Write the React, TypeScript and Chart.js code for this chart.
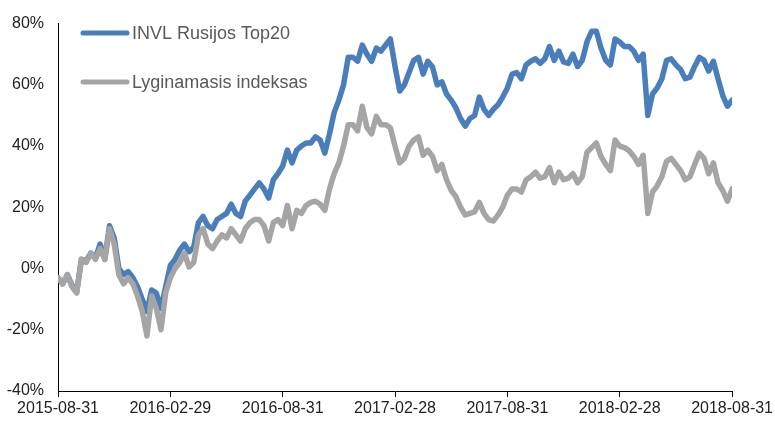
import React, { useEffect, useRef } from "react";
import { Chart, registerables } from "chart.js";

Chart.register(...registerables);

// x axis: 145 evenly spaced observations (index 0..144), labels every 24 steps
const tickLabels = [
  "2015-08-31",
  "2016-02-29",
  "2016-08-31",
  "2017-02-28",
  "2017-08-31",
  "2018-02-28",
  "2018-08-31",
];

const seriesNames = ["INVL Rusijos Top20", "Lyginamasis indeksas"];

const invlTop20 = [
  -3, -5, -2, -5.5, -7.5, 3, 2.5, 5, 3.5, 8,
  3, 14, 10, 0, -2, -1, -3, -6, -10, -14,
  -7, -8, -13, -6, 1, 3, 6, 8, 5.5, 7,
  15, 17, 14, 13, 16, 17, 18, 21, 18, 17,
  22, 24, 26, 28, 26, 23, 29, 31, 33.5, 38.7,
  34.5, 38.7, 40, 41, 41, 43, 42, 37.7, 44, 51,
  55, 60, 69, 69, 67.7, 73, 70, 67.7, 72, 71,
  73, 75, 66, 58, 60, 64, 68, 69, 63.5, 67.7,
  65.8, 60, 61, 57, 55, 52.5, 49, 46.5, 49, 50,
  56, 52, 50, 52, 53.5, 56, 59, 63.5, 64, 62,
  66.5, 67.7, 68.5, 67, 68.5, 72.5, 68, 71, 67.5, 67,
  70, 66, 68, 74, 77.5, 77.5, 72, 68, 66.5, 75,
  74, 72.5, 72.5, 71, 68, 70, 50, 57, 59, 62,
  68, 68.5, 66.5, 65, 62, 62.5, 66, 69, 68, 64.5,
  67.7, 62, 56.5, 53, 55,
];

const benchmark = [
  -3, -5, -2, -6, -8, 3, 2, 5, 3, 6.5,
  3, 13, 8, -2, -5, -3, -5, -9, -14, -22,
  -9, -13, -20, -8, -3, 0, 2, 5, 0.5, 2,
  11, 13, 8, 6.5, 9, 11, 10, 13, 11, 9,
  13, 15, 16, 16, 14, 9, 15, 16, 14, 20.6,
  13, 19, 18, 20.6, 21.6, 22, 21, 19, 26, 31,
  34.5, 40, 47, 47, 45, 53, 46, 44, 49.7, 47,
  47, 46, 40, 34.5, 36, 40, 42, 43, 37, 38.7,
  36.6, 32, 34, 29, 25.5, 23.5, 20, 17.5, 18, 18.5,
  21.6, 18, 16, 15.5, 17.5, 20, 24, 26, 26, 25,
  29, 30, 31.5, 29.5, 30, 33, 28, 31.5, 29, 29.5,
  31, 28, 30, 38, 39.5, 41, 36.6, 34, 32, 42,
  40, 39.5, 38.5, 36.6, 34, 37, 18, 25, 27, 30,
  35, 36, 34, 32, 29, 30, 34, 37.7, 36, 31,
  34.5, 28, 25.5, 22, 26,
];

const seriesColors = ["#4a7ebb", "#a5a5a5"];
const FONT = "'Liberation Sans', Arial, Helvetica, sans-serif";

const legendPlugin = {
  id: "customLegend",
  afterDraw(chart: any) {
    const ctx = chart.ctx;
    const items = chart.data.datasets;
    ctx.save();
    items.forEach((ds: any, k: number) => {
      const y = 33 + k * 49;
      ctx.beginPath();
      ctx.strokeStyle = ds.borderColor;
      ctx.lineWidth = 5;
      ctx.lineCap = "round";
      ctx.moveTo(83, y);
      ctx.lineTo(127, y);
      ctx.stroke();
      ctx.fillStyle = "#595959";
      ctx.font = `18px ${FONT}`;
      ctx.textBaseline = "middle";
      ctx.textAlign = "left";
      ctx.fillText(ds.label, 132, y + 1);
    });
    ctx.restore();
  },
};

export default function App() {
  const ref = useRef<HTMLCanvasElement | null>(null);

  useEffect(() => {
    if (!ref.current) return;
    const labels = invlTop20.map((_, i) => i);
    const chart = new Chart(ref.current, {
      type: "line",
      data: {
        labels,
        datasets: [
          {
            label: seriesNames[0],
            data: invlTop20.map((v, i) => ({ x: i, y: v })),
            borderColor: seriesColors[0],
            backgroundColor: seriesColors[0],
            borderWidth: 5.5,
            pointRadius: 0,
            tension: 0,
            borderJoinStyle: "round",
            borderCapStyle: "round",
            order: 1,
          },
          {
            label: seriesNames[1],
            data: benchmark.map((v, i) => ({ x: i, y: v })),
            borderColor: seriesColors[1],
            backgroundColor: seriesColors[1],
            borderWidth: 5.5,
            pointRadius: 0,
            tension: 0,
            borderJoinStyle: "round",
            borderCapStyle: "round",
            order: 0,
          },
        ],
      },
      options: {
        responsive: false,
        animation: false,
        devicePixelRatio: 1,
        layout: { padding: { top: 19, right: 42, bottom: 0, left: 0 } },
        plugins: {
          legend: { display: false },
          tooltip: { enabled: false },
        },
        scales: {
          x: {
            type: "linear",
            min: 0,
            max: invlTop20.length - 1,
            afterBuildTicks(scale: any) {
              scale.ticks = tickLabels.map((_, k) => ({ value: k * 24 }));
            },
            afterFit(scale: any) {
              scale.height = 32;
            },
            ticks: {
              autoSkip: false,
              maxRotation: 0,
              color: "#222",
              font: { family: FONT, size: 16 },
              padding: 2,
              callback: (v: any) => tickLabels[Math.round(Number(v) / 24)] ?? "",
            },
            grid: {
              display: true,
              drawOnChartArea: false,
              drawTicks: true,
              tickLength: 6,
              color: "#000",
            },
            border: { display: true, color: "#000", width: 1 },
          },
          y: {
            min: -40,
            max: 80,
            afterFit(scale: any) {
              scale.width = 58;
            },
            ticks: {
              stepSize: 20,
              color: "#222",
              font: { family: FONT, size: 16 },
              padding: 14,
              callback: (v: any) => `${v}%`,
            },
            grid: { display: false, drawTicks: false },
            border: { display: true, color: "#000", width: 1 },
          },
        },
      },
      plugins: [legendPlugin],
    });
    return () => chart.destroy();
  }, []);

  return (
    <div style={{ position: "absolute", left: 0, top: 0, width: 775, height: 423, background: "#fff" }}>
      <canvas ref={ref} width={775} height={423} style={{ display: "block" }} />
    </div>
  );
}
